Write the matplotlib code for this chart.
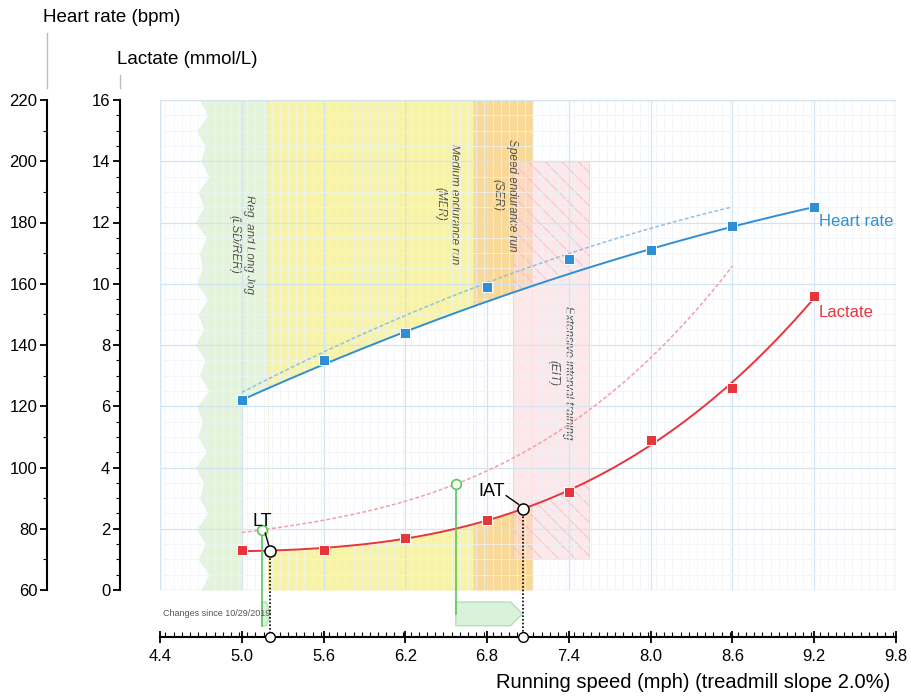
import numpy as np
import matplotlib
matplotlib.use("Agg")
import matplotlib.pyplot as plt
from matplotlib.ticker import MultipleLocator, FormatStrFormatter
from matplotlib.patches import Rectangle, Polygon
from matplotlib.lines import Line2D

plt.rcParams['font.family'] = ['Liberation Sans', 'DejaVu Sans']
plt.rcParams['hatch.linewidth'] = 0.5

# ---------------- data ----------------
speed = [5.0, 5.6, 6.2, 6.8, 7.4, 8.0, 8.6, 9.2]
heart_rate = [122, 135, 144, 159, 168, 171, 179, 185]
lactate = [1.3, 1.3, 1.7, 2.3, 3.2, 4.9, 6.6, 9.6]
hr_fit_weights = [3, 1, 2, 0.3, 0.3, 2, 2, 3]

prev_speed = [5.0, 5.6, 6.2, 6.8, 7.4, 8.0, 8.6]
prev_heart_rate = [124.7, 137.7, 148.8, 161.0, 170.0, 178.0, 185.0]
prev_lactate = [1.86, 2.35, 2.8, 3.9, 5.5, 7.5, 10.6]

lt_speed, iat_speed = 5.21, 7.06
prev_lt_speed, prev_iat_speed = 5.15, 6.57

zone_bounds = [(4.7, 5.19), (5.19, 6.70), (6.70, 7.13)]
zone_colors = ['#e4f4dc', '#f7f4a9', '#f9d997']
eit_box = (6.99, 7.55, 1.0, 14.0)
zone_labels = ["Reg. and Long Jog\n(LSD/RER)", "Medium endurance run\n(MER)",
               "Speed endurance run\n(SER)", "Extensive interval training\n(EIT)"]
zone_label_pos = [(5.0, 11.27), (6.51, 12.6), (6.93, 12.9), (7.34, 7.1)]
green_edge = [4.70, 4.76, 4.68, 4.73, 4.67, 4.75, 4.69, 4.72, 4.66, 4.74, 4.68,
              4.71, 4.67, 4.76, 4.69, 4.73, 4.66, 4.72, 4.68, 4.75, 4.67, 4.71,
              4.69, 4.74, 4.66, 4.72, 4.68, 4.76, 4.70, 4.73, 4.67, 4.75, 4.69]

xticks = [4.4, 5.0, 5.6, 6.2, 6.8, 7.4, 8.0, 8.6, 9.2, 9.8]
change_text = "Changes since 10/29/2019"

BLUE = '#2f8fd5'
RED = '#e8343b'
LBLUE = '#8fc0e6'
LRED = '#f0a0a8'
GREEN = '#5cc65c'

# ---------------- fits ----------------
hr_coef = np.polyfit(speed, heart_rate, 2, w=hr_fit_weights)
lac_coef = np.polyfit(speed, lactate, 3)
phr_coef = np.polyfit(prev_speed, prev_heart_rate, 2)
plac_coef = np.polyfit(prev_speed, prev_lactate, 3)

def hr_l(x, c=hr_coef):
    return (np.polyval(c, x) - 60) / 10.0

def lac(x, c=lac_coef):
    return np.polyval(c, x)

xs = np.linspace(speed[0], speed[-1], 400)
pxs = np.linspace(prev_speed[0], prev_speed[-1], 400)

# ---------------- figure ----------------
fig = plt.figure(figsize=(9.12, 6.98), dpi=100)
ax = fig.add_axes([160/912, 108/698, 736/912, 490/698])
ax.set_xlim(4.4, 9.8)
ax.set_ylim(0, 16)

# zones
ey = np.linspace(0, 16, len(green_edge))
ax.fill_betweenx(ey, green_edge, speed[0], color=zone_colors[0], lw=0, zorder=1)
zx = np.linspace(speed[0], zone_bounds[0][1], 50)
ax.fill_between(zx, hr_l(zx), 16, color=zone_colors[0], lw=0, zorder=1)
for (x0, x1), col in zip(zone_bounds[1:], zone_colors[1:]):
    zx = np.linspace(x0, x1, 100)
    ax.fill_between(zx, hr_l(zx), 16, color=col, lw=0, zorder=1)
    ax.fill_between(zx, 0, lac(zx), color=col, lw=0, zorder=1)
for xb in [zone_bounds[1][0], zone_bounds[2][0], zone_bounds[2][1]]:
    ax.plot([xb, xb], [0, 16], color='#d8d0a0', lw=0.6, ls=':', zorder=1.1)

ex0, ex1, ey0, ey1 = eit_box
ax.add_patch(Rectangle((ex0, ey0), ex1 - ex0, ey1 - ey0, facecolor='#fbd9dd',
                       alpha=0.6, edgecolor='#f5bcc3', lw=0.8, zorder=1.2))
hx = np.linspace(ex0, ex1, 100)
ax.fill_between(hx, hr_l(hx), ey1, facecolor='none', edgecolor='#f5b3ba',
                hatch='\\\\', lw=0, zorder=1.3)
ax.fill_between(hx, ey0, np.maximum(lac(hx), ey0), facecolor='none',
                edgecolor='#f5b3ba', hatch='\\\\', lw=0, zorder=1.3)

for txt, (tx, ty) in zip(zone_labels, zone_label_pos):
    ax.text(tx, ty, txt, rotation=-90, ha='center', va='center', fontsize=8.5,
            style='italic', color='#505050', multialignment='center', zorder=2)

# grid
ax.xaxis.set_major_locator(MultipleLocator(0.6))
ax.xaxis.set_minor_locator(MultipleLocator(0.06))
ax.yaxis.set_major_locator(MultipleLocator(2))
ax.yaxis.set_minor_locator(MultipleLocator(0.5))
ax.grid(which='major', color='#d3e4f1', lw=0.9, zorder=1.5)
ax.grid(which='minor', color='#edf3f8', lw=0.5, zorder=1.5)
ax.set_axisbelow(False)
ax.add_patch(Rectangle((0, 0), 1, 1, transform=ax.transAxes, fill=False,
                       ec='#cfe1ef', lw=1.0, zorder=1.6))

# previous curves
ax.plot(pxs, hr_l(pxs, phr_coef), color=LBLUE, lw=1.1, ls=(0, (2.5, 1.5)), zorder=3)
ax.plot(pxs, lac(pxs, plac_coef), color=LRED, lw=1.1, ls=(0, (2.5, 1.5)), zorder=3)

# current curves
ax.plot(xs, hr_l(xs), color=BLUE, lw=1.4, zorder=4)
ax.plot(xs, lac(xs), color=RED, lw=1.4, zorder=4)
ax.plot(speed, (np.array(heart_rate) - 60) / 10.0, 's', color=BLUE, ms=7.5,
        mec='white', mew=0.7, zorder=5)
ax.plot(speed, lactate, 's', color=RED, ms=7.5, mec='white', mew=0.7, zorder=5)

ax.text(9.235, 12.02, "Heart rate", color=BLUE, fontsize=12, ha='left', va='center')
ax.text(9.235, 9.05, "Lactate", color=RED, fontsize=12, ha='left', va='center')

# thresholds
axis_y = -47 / 30.625
yc = -0.78
hh = 0.39
for ps, cs, full in [(prev_lt_speed, lt_speed, False), (prev_iat_speed, iat_speed, True)]:
    py = lac(ps, plac_coef)
    cy = lac(cs)
    pt = min(0.088, 0.5 * (cs - ps))
    ax.add_patch(Polygon([(ps, yc + hh), (cs - pt, yc + hh), (cs, yc),
                          (cs - pt, yc - hh), (ps, yc - hh)], closed=True,
                         facecolor='#d9f2d9', edgecolor='#a9dca9', lw=0.8,
                         clip_on=False, zorder=3))
    ax.plot([ps, ps], [py, yc if full else yc - hh], color=GREEN, lw=1.2,
            clip_on=False, zorder=4)
    ax.plot([ps], [py], 'o', ms=7, mfc='white', mec=GREEN, mew=1.2, zorder=6)
    ax.plot([cs, cs], [cy, axis_y], color='black', lw=1.2, ls=(0, (1, 1.2)),
            clip_on=False, zorder=4)
    ax.plot([cs], [cy], 'o', ms=8, mfc='white', mec='black', mew=1.1, zorder=7)
    ax.plot([cs], [axis_y], 'o', ms=7, mfc='white', mec='black', mew=1.0,
            clip_on=False, zorder=7)

ax.text(5.15, 2.25, "LT", fontsize=13, ha='center', va='center', zorder=8)
ax.plot([5.172, 5.197], [1.86, 1.47], color='black', lw=1.0, zorder=8)
ax.text(6.83, 3.22, "IAT", fontsize=13, ha='center', va='center', zorder=8)
ax.plot([6.94, 7.03], [3.08, 2.80], color='black', lw=1.0, zorder=8)

ax.text(4.42, yc, change_text, fontsize=6.5, color='#555555', ha='left',
        va='center', clip_on=False, zorder=5)

# axes styling
for s in ['top', 'right']:
    ax.spines[s].set_visible(False)
ax.spines['bottom'].set_position(('outward', 47 * 72 / 100))
ax.spines['left'].set_position(('axes', -40 / 736))
ax.spines['bottom'].set_linewidth(1.5)
ax.spines['left'].set_linewidth(1.5)
ax.set_xticks(xticks)
ax.xaxis.set_major_formatter(FormatStrFormatter('%.1f'))
ax.tick_params(axis='x', which='major', direction='inout', length=9, width=1.3,
               labelsize=12, pad=4)
ax.tick_params(axis='x', which='minor', direction='in', length=3.5, width=0.8)
ax.tick_params(axis='y', which='major', direction='out', length=5, width=1.3,
               labelsize=12, pad=2)
ax.tick_params(axis='y', which='minor', direction='out', length=3, width=0.8)
ax.yaxis.set_major_formatter(FormatStrFormatter('%d'))

ax2 = ax.twinx()
ax2.set_ylim(60, 220)
ax2.yaxis.tick_left()
for s in ['top', 'right', 'bottom']:
    ax2.spines[s].set_visible(False)
ax2.spines['left'].set_visible(True)
ax2.spines['left'].set_position(('axes', -113 / 736))
ax2.spines['left'].set_linewidth(1.5)
ax2.yaxis.set_major_locator(MultipleLocator(20))
ax2.yaxis.set_minor_locator(MultipleLocator(10))
ax2.tick_params(axis='y', which='major', direction='out', length=5, width=1.3,
                labelsize=12, pad=2, left=True, labelleft=True, right=False,
                labelright=False)
ax2.tick_params(axis='y', which='minor', direction='out', length=3, width=0.8,
                left=True, right=False)

fig.add_artist(Line2D([47/912, 47/912], [1 - 33/698, 1 - 88/698], color='#bbbbbb', lw=1))
fig.add_artist(Line2D([120/912, 120/912], [1 - 75/698, 1 - 88/698], color='#bbbbbb', lw=1))
fig.text(43/912, 1 - 18/698, "Heart rate (bpm)", fontsize=13.5, ha='left', va='center')
fig.text(117/912, 1 - 60/698, "Lactate (mmol/L)", fontsize=13.5, ha='left', va='center')
fig.text(890/912, 1 - 683/698, "Running speed (mph) (treadmill slope 2.0%)",
         fontsize=14.5, ha='right', va='center')

fig.savefig("out.png", dpi=100)
